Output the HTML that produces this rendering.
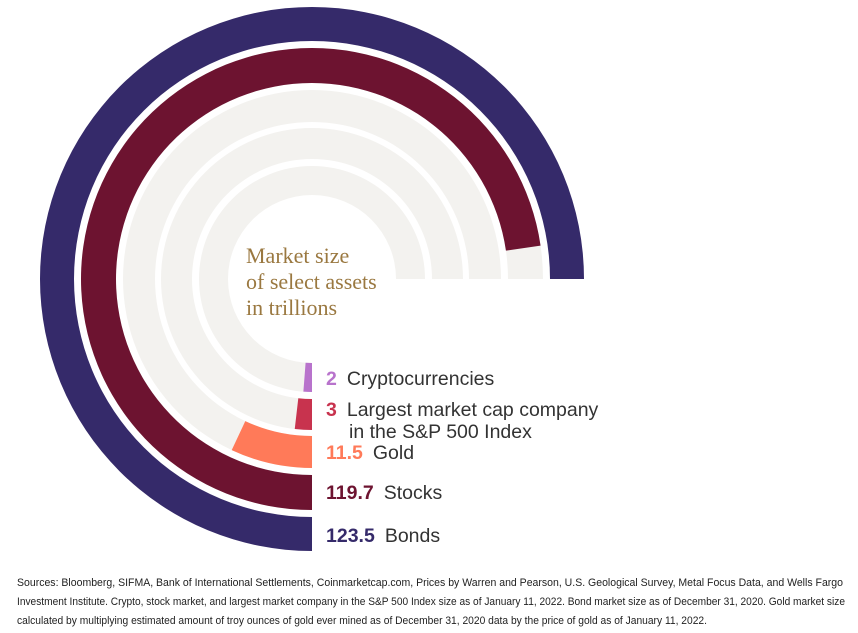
<!DOCTYPE html>
<html><head><meta charset="utf-8"><style>
body{margin:0;background:#fff;}
svg{display:block;}
.lbl{font-family:"Liberation Sans",sans-serif;font-size:19.5px;fill:#333;}
.val{font-weight:bold;}
.src{font-family:"Liberation Sans",sans-serif;font-size:11px;fill:#222;}
</style></head><body>
<svg id="chart" width="858" height="633">
<g id="tracks"></g>
<g id="bars"></g>
<text x="246" y="263" font-family="Liberation Serif,serif" font-size="22" fill="#9a7840"><tspan x="246">Market size</tspan><tspan x="246" dy="26">of select assets</tspan><tspan x="246" dy="26">in trillions</tspan></text>
<g id="labels"></g>
<g>
<text class="src" x="17" y="586" textLength="826" lengthAdjust="spacingAndGlyphs">Sources: Bloomberg, SIFMA, Bank of International Settlements, Coinmarketcap.com, Prices by Warren and Pearson, U.S. Geological Survey, Metal Focus Data, and Wells Fargo</text>
<text class="src" x="17" y="605" textLength="828" lengthAdjust="spacingAndGlyphs">Investment Institute. Crypto, stock market, and largest market company in the S&amp;P 500 Index size as of January 11, 2022. Bond market size as of December 31, 2020. Gold market size</text>
<text class="src" x="17" y="624" textLength="690" lengthAdjust="spacingAndGlyphs">calculated by multiplying estimated amount of troy ounces of gold ever mined as of December 31, 2020 data by the price of gold as of January 11, 2022.</text>
</g>
</svg>
<script>
const categories=["Cryptocurrencies","Largest market cap company","Gold","Stocks","Bonds"];
const values=[2,3,11.5,119.7,123.5];
const valueLabels=["2","3","11.5","119.7","123.5"];
const colors=["#b873cc","#c8334e","#ff7a59","#6d1330","#352a6a"];
const inner=[84,120,157,196,238];
const outer=[113,151,189,231,272];
const cx=312,cy=279,maxV=123.5;
const NS="http://www.w3.org/2000/svg";
function ang(v){return Math.PI/2+(v/maxV)*1.5*Math.PI;}
function arc(r0,r1,a0,a1){
  const p=(r,a)=>[cx+r*Math.cos(a),cy+r*Math.sin(a)];
  const large=(a1-a0)>Math.PI?1:0;
  const [x1,y1]=p(r1,a0),[x2,y2]=p(r1,a1),[x3,y3]=p(r0,a1),[x4,y4]=p(r0,a0);
  return `M${x1},${y1}A${r1},${r1} 0 ${large} 1 ${x2},${y2}L${x3},${y3}A${r0},${r0} 0 ${large} 0 ${x4},${y4}Z`;
}
const tg=document.getElementById('tracks'),bg=document.getElementById('bars'),lg=document.getElementById('labels');
for(let i=0;i<values.length;i++){
  const t=document.createElementNS(NS,'path');
  t.setAttribute('d',arc(inner[i],outer[i],ang(0),ang(maxV)));
  t.setAttribute('fill','#f3f2ef');
  
  
  tg.appendChild(t);
  const b=document.createElementNS(NS,'path');
  b.setAttribute('d',arc(inner[i],outer[i],ang(0),ang(values[i])));
  b.setAttribute('fill',colors[i]);
  
  
  bg.appendChild(b);
}
const ly=[385,416,459,499,542];
const names=["Cryptocurrencies","Largest market cap company","Gold","Stocks","Bonds"];
for(let i=0;i<values.length;i++){
  const t=document.createElementNS(NS,'text');
  t.setAttribute('class','lbl');
  t.setAttribute('x',326);t.setAttribute('y',ly[i]);
  
  
  t.innerHTML=`<tspan class="val" fill="${colors[i]}">${valueLabels[i]}</tspan><tspan dx="10">${names[i]}</tspan>`;
  lg.appendChild(t);
}
const t2=document.createElementNS(NS,'text');
t2.setAttribute('class','lbl');t2.setAttribute('x',349);t2.setAttribute('y',438);


t2.textContent="in the S&P 500 Index";
lg.appendChild(t2);
</script>
</body></html>
